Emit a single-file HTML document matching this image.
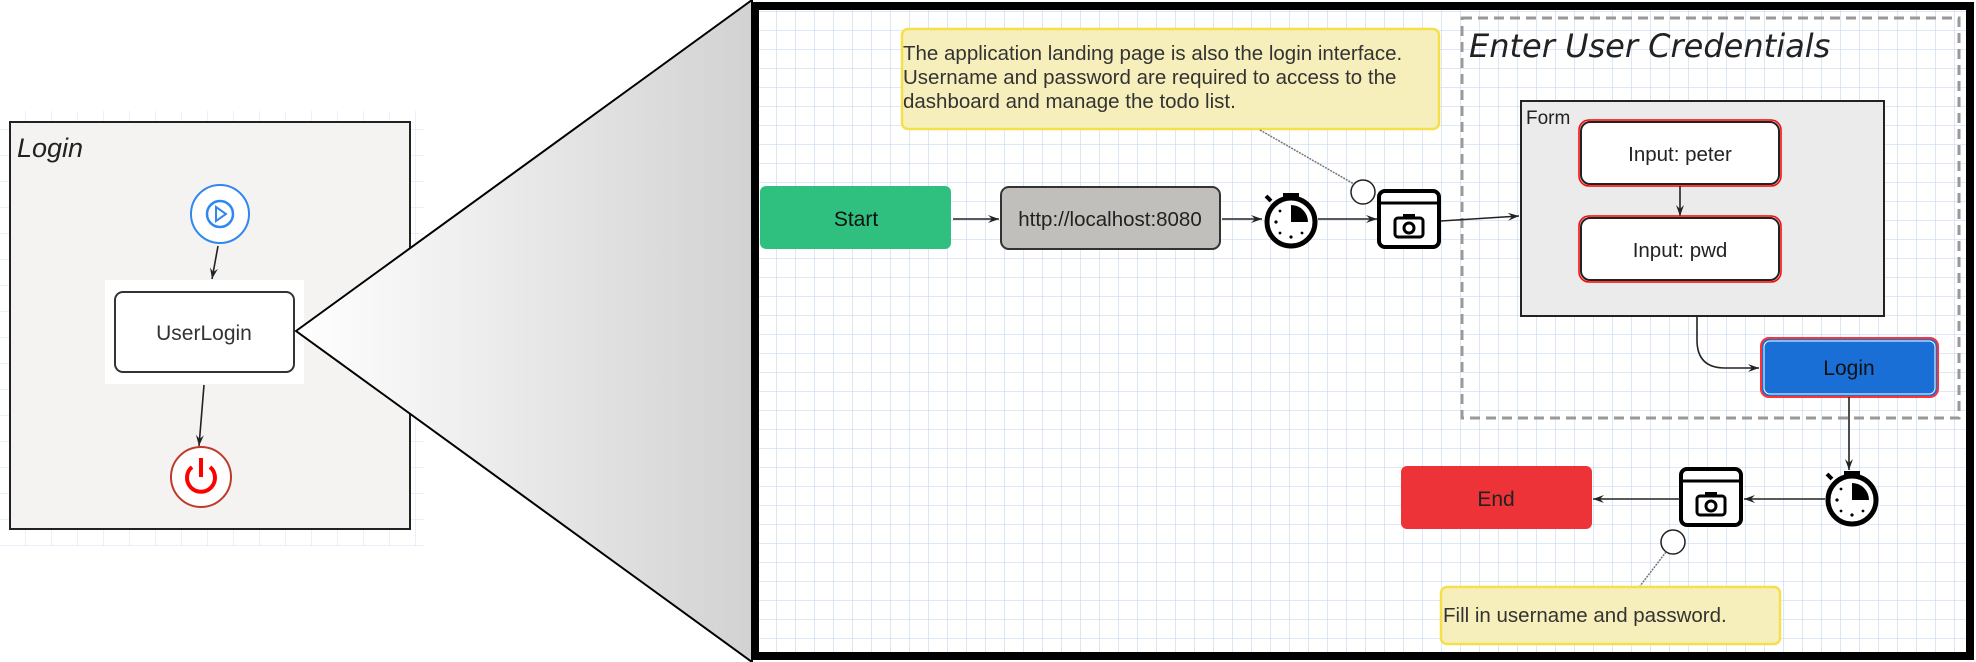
<!DOCTYPE html>
<html><head><meta charset="utf-8"><style>
html,body{margin:0;padding:0;background:#fff;width:1976px;height:662px;overflow:hidden}
svg{display:block}
text{font-family:"Liberation Sans",sans-serif}
</style></head><body>
<svg width="1976" height="662" viewBox="0 0 1976 662" xmlns="http://www.w3.org/2000/svg">
<defs>
<linearGradient id="tri" x1="0" x2="1" y1="0" y2="0"><stop offset="0" stop-color="#ffffff"/><stop offset="1" stop-color="#d2d2d2"/></linearGradient>
<pattern id="grid" width="19" height="19" patternUnits="userSpaceOnUse" x="758" y="12">
<path d="M19 0V19M0 19H19" fill="none" stroke="#c9daf0" stroke-width="1.3"/></pattern>
<pattern id="grid2" width="26" height="26" patternUnits="userSpaceOnUse" x="0" y="0">
<path d="M26 0V26M0 26H26" fill="none" stroke="#d4e2f4" stroke-width="1"/></pattern>
<marker id="ar" markerWidth="12" markerHeight="10" refX="11" refY="5" orient="auto" markerUnits="userSpaceOnUse"><path d="M0 1L11 5L0 9L4 5Z" fill="#222"/></marker>
</defs>
<!-- left panel -->
<rect x="0" y="111" width="424" height="435" fill="url(#grid2)"/>
<rect x="10" y="122" width="400" height="407" fill="#f4f3f2" stroke="#222" stroke-width="2"/>
<text x="17" y="157" font-size="27" font-style="italic" fill="#222">Login</text>
<circle cx="220" cy="214" r="29" fill="#fff" stroke="#2f87f0" stroke-width="2"/>
<circle cx="220" cy="214" r="13" fill="none" stroke="#2f87f0" stroke-width="2.5"/>
<path d="M216 207L226 214L216 221Z" fill="none" stroke="#2f87f0" stroke-width="2"/>
<line x1="218" y1="246" x2="212" y2="279" stroke="#222" stroke-width="1.6" marker-end="url(#ar)"/>
<rect x="105" y="280" width="199" height="104" fill="#fff"/>
<rect x="115" y="292" width="179" height="80" rx="8" fill="#fff" stroke="#333" stroke-width="2"/>
<text x="204" y="340" font-size="21" text-anchor="middle" fill="#333">UserLogin</text>
<line x1="204" y1="385" x2="199" y2="446" stroke="#222" stroke-width="1.6" marker-end="url(#ar)"/>
<circle cx="201" cy="477" r="30" fill="#fff" stroke="#c0392b" stroke-width="2"/>
<path d="M192 467A14 14 0 1 0 210 467" fill="none" stroke="#f00" stroke-width="4"/>
<line x1="201" y1="458" x2="201" y2="477" stroke="#f00" stroke-width="4"/>
<!-- triangle -->
<polygon points="296,331 752,0 752,662" fill="url(#tri)" stroke="#000" stroke-width="2"/>
<!-- main panel -->
<rect x="755" y="6" width="1215" height="650" fill="#fff"/>
<rect x="755" y="6" width="1215" height="650" fill="url(#grid)"/>
<rect x="755" y="6" width="1215" height="650" fill="none" stroke="#000" stroke-width="8"/>
<!-- note 1 -->
<rect x="902" y="29" width="537" height="100" rx="6" fill="#f7efbb" stroke="#f5e04a" stroke-width="2.5"/>
<text font-size="20.5" fill="#333"><tspan x="903" y="60">The application landing page is also the login interface.</tspan><tspan x="903" y="84">Username and password are required to access to the</tspan><tspan x="903" y="108">dashboard and manage the todo list.</tspan></text>
<line x1="1260" y1="130" x2="1354" y2="184" stroke="#777" stroke-width="1.5" stroke-dasharray="2,1"/>
<circle cx="1363" cy="192" r="12" fill="#fff" stroke="#222" stroke-width="1.5"/>
<!-- container -->
<rect x="1462" y="18" width="497" height="400" fill="none" stroke="#999" stroke-width="3" stroke-dasharray="10,6"/>
<text x="1469" y="57" font-size="32" font-style="italic" fill="#222" style="font-family:'DejaVu Sans',sans-serif">Enter User Credentials</text>
<!-- start row -->
<rect x="760" y="186" width="191" height="63" rx="6" fill="#2fc080"/>
<text x="856" y="226" font-size="21" text-anchor="middle" fill="#111">Start</text>
<line x1="953" y1="219" x2="999" y2="219" stroke="#222" stroke-width="1.6" marker-end="url(#ar)"/>
<rect x="1001" y="187" width="219" height="62" rx="8" fill="#c0bfbb" stroke="#333" stroke-width="2"/>
<text x="1110" y="226" font-size="20.5" text-anchor="middle" fill="#222">http://localhost:8080</text>
<line x1="1222" y1="219" x2="1262" y2="219" stroke="#222" stroke-width="1.6" marker-end="url(#ar)"/>
<g id="sw">
<circle cx="1291" cy="222" r="24" fill="#fff" stroke="#000" stroke-width="5"/>
<rect x="1283" y="193" width="16" height="5" fill="#000"/><rect x="1288" y="196" width="6" height="4" fill="#000"/>
<path d="M1291 222V205A17 17 0 0 1 1308 222Z" fill="#000"/>
<line x1="1271" y1="201" x2="1266" y2="196" stroke="#000" stroke-width="4"/>
<g fill="#000"><circle cx="1276" cy="222" r="1.6"/><circle cx="1291" cy="237" r="1.6"/><circle cx="1280" cy="211" r="1.4"/><circle cx="1280" cy="233" r="1.4"/><circle cx="1302" cy="233" r="1.4"/></g>
</g>
<line x1="1318" y1="219" x2="1377" y2="219" stroke="#222" stroke-width="1.6" marker-end="url(#ar)"/>
<g id="cam">
<rect x="1379" y="191" width="60" height="56" rx="6" fill="#fff" stroke="#000" stroke-width="4"/>
<line x1="1379" y1="203" x2="1439" y2="203" stroke="#000" stroke-width="3"/>
<rect x="1395" y="218" width="28" height="19" rx="3" fill="none" stroke="#000" stroke-width="3"/>
<circle cx="1409" cy="228" r="5" fill="none" stroke="#000" stroke-width="3"/>
<rect x="1403" y="214" width="12" height="5" fill="#000"/>
</g>
<line x1="1441" y1="221" x2="1519" y2="216" stroke="#222" stroke-width="1.6" marker-end="url(#ar)"/>
<!-- form -->
<rect x="1521" y="101" width="363" height="215" fill="#ebebeb" stroke="#222" stroke-width="2"/>
<text x="1526" y="124" font-size="19" fill="#222">Form</text>
<rect x="1581" y="122" width="198" height="62" rx="9" fill="#fff" stroke="#222" stroke-width="2"/>
<rect x="1579" y="120" width="202" height="66" rx="10" fill="none" stroke="#f00" stroke-width="1.5"/>
<text x="1680" y="161" font-size="20.5" text-anchor="middle" fill="#222">Input: peter</text>
<line x1="1680" y1="186" x2="1680" y2="216" stroke="#222" stroke-width="1.6" marker-end="url(#ar)"/>
<rect x="1581" y="218" width="198" height="62" rx="9" fill="#fff" stroke="#222" stroke-width="2"/>
<rect x="1579" y="216" width="202" height="66" rx="10" fill="none" stroke="#f00" stroke-width="1.5"/>
<text x="1680" y="257" font-size="20.5" text-anchor="middle" fill="#222">Input: pwd</text>
<path d="M1697 317V340Q1697 368 1725 368H1759" fill="none" stroke="#222" stroke-width="1.6" marker-end="url(#ar)"/>
<rect x="1761" y="338" width="177" height="59" rx="8" fill="#1a6fd6" stroke="#f33" stroke-width="2"/>
<rect x="1764" y="341" width="171" height="53" rx="6" fill="none" stroke="#fff" stroke-width="1"/>
<text x="1849" y="375" font-size="21" text-anchor="middle" fill="#111">Login</text>
<line x1="1849" y1="397" x2="1849" y2="470" stroke="#222" stroke-width="1.6" marker-end="url(#ar)"/>
<!-- bottom row -->
<use href="#sw" transform="translate(561,278)"/>
<line x1="1825" y1="499" x2="1744" y2="499" stroke="#222" stroke-width="1.6" marker-end="url(#ar)"/>
<use href="#cam" transform="translate(302,278)"/>
<line x1="1680" y1="499" x2="1593" y2="499" stroke="#222" stroke-width="1.6" marker-end="url(#ar)"/>
<rect x="1401" y="466" width="191" height="63" rx="6" fill="#ee3338"/>
<text x="1496" y="506" font-size="21" text-anchor="middle" fill="#222">End</text>
<circle cx="1673" cy="542" r="12" fill="#fff" stroke="#222" stroke-width="1.5"/>
<line x1="1666" y1="552" x2="1640" y2="586" stroke="#777" stroke-width="1.5" stroke-dasharray="2,1"/>
<rect x="1441" y="587" width="339" height="57" rx="6" fill="#f7efbb" stroke="#f5e04a" stroke-width="2.5"/>
<text x="1443" y="622" font-size="20.5" fill="#333">Fill in username and password.</text>
</svg>
</body></html>
